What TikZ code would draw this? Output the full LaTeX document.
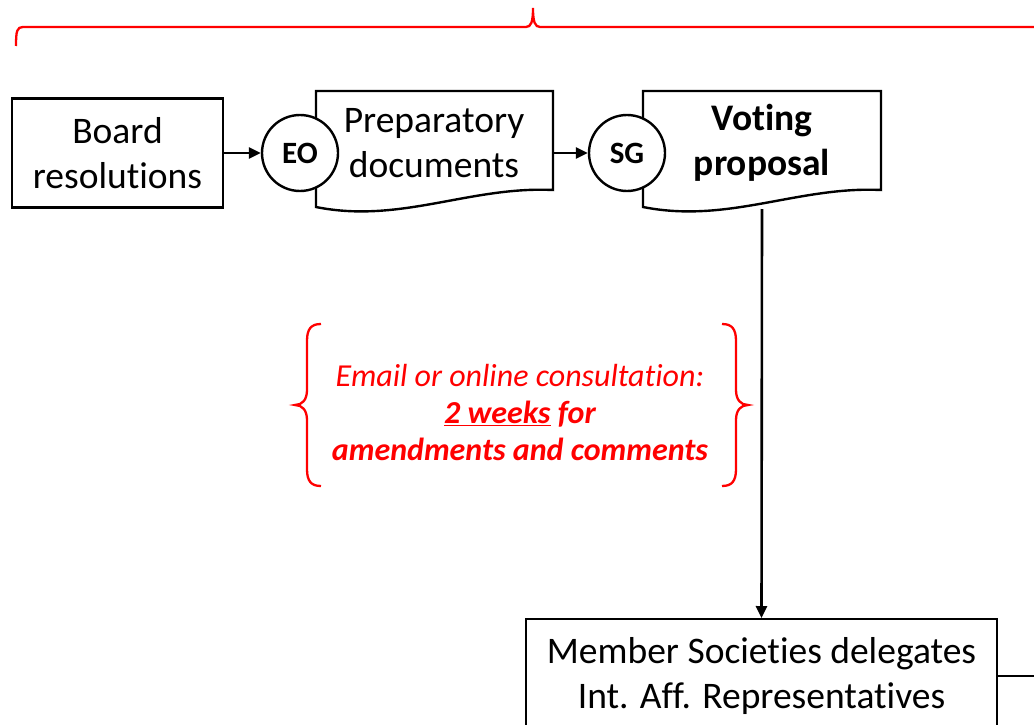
\documentclass[tikz,border=0pt]{standalone}
\usepackage{fontspec}
\setmainfont{Carlito}[RawFeature={-liga}]
\usetikzlibrary{arrows.meta}
\begin{document}
\begin{tikzpicture}[x=1pt,y=-1pt,
  box/.style={draw, line width=2.4pt, inner sep=0},
  big/.style={font=\fontsize{37.5}{44.5}\selectfont, align=center, inner sep=0},
  circ/.style={draw, circle, fill=white, line width=2.4pt, minimum size=76, inner sep=0, font=\fontsize{31}{34}\selectfont\bfseries},
  arr/.style={-{Triangle[length=12pt,width=11pt]}, line width=2.6pt},
  redline/.style={draw=red, line width=2.3pt},
  plain/.style={line width=2.4pt}
]
\useasboundingbox (0,0) rectangle (1034,725);

% top brace
\draw[redline] (16,46) .. controls (16,31) and (17,27) .. (23,27) -- (526,27)
  .. controls (531,27) and (533,22) .. (533,8)
  .. controls (533,22) and (535,27) .. (540,27) -- (1040,27);

% board resolutions
\node (board) [box, big, minimum width=211, minimum height=109] at (117.5,153) {Board\\resolutions};

% preparatory documents (document shape)
\draw[box, plain] (316,91) -- (553,91) -- (553,190)
  .. controls (470,186) and (400,224) .. (316,207) -- cycle;
\node (prep) [big] at (434,143) {Preparatory\\documents};
\coordinate (prepE) at (553,153);

% voting proposal (document shape)
\draw[box, plain] (643,91) -- (881,91) -- (881,190)
  .. controls (798,186) and (728,224) .. (643,207) -- cycle;
\node (vote) [big, font=\fontsize{37.5}{44.5}\selectfont\bfseries] at (762,143) {Voting\\proposal};
\coordinate (voteS) at (762,209);

% circles
\node (eo) [circ] at (300,153) {EO};
\node (sg) [circ] at (627,153) {SG};

% member box
\node (member) [box, minimum width=471, minimum height=150, anchor=north] at (761.5,618) {};
\node (memtext) [big] at (761.5,676) {Member Societies delegates\\Int. Aff. Representatives};
\coordinate (mr) at (1040,676);

% connectors
\draw[arr] (board.east) -- (eo.west);
\draw[arr] (prepE) -- (sg.west);
\draw[arr] (voteS) -- (member.north);
\draw[plain] (member.east |- mr) -- (mr);

% red note
\node (note) [text=red, font=\fontsize{32}{37}\selectfont\itshape, align=center] at (520,413)
  {Email or online consultation:\\\textbf{\underline{2 weeks} for}\\\textbf{amendments and comments}};

% braces
\draw[redline] (321,324) .. controls (311,324) and (307,329) .. (307,341) -- (307,390)
  .. controls (307,400) and (302,405) .. (295,405)
  .. controls (302,405) and (307,410) .. (307,420) -- (307,469)
  .. controls (307,481) and (311,486) .. (321,486);
\draw[redline] (722,324) .. controls (732,324) and (736,329) .. (736,341) -- (736,390)
  .. controls (736,400) and (741,405) .. (748,405)
  .. controls (741,405) and (736,410) .. (736,420) -- (736,469)
  .. controls (736,481) and (732,486) .. (722,486);
\end{tikzpicture}
\end{document}
